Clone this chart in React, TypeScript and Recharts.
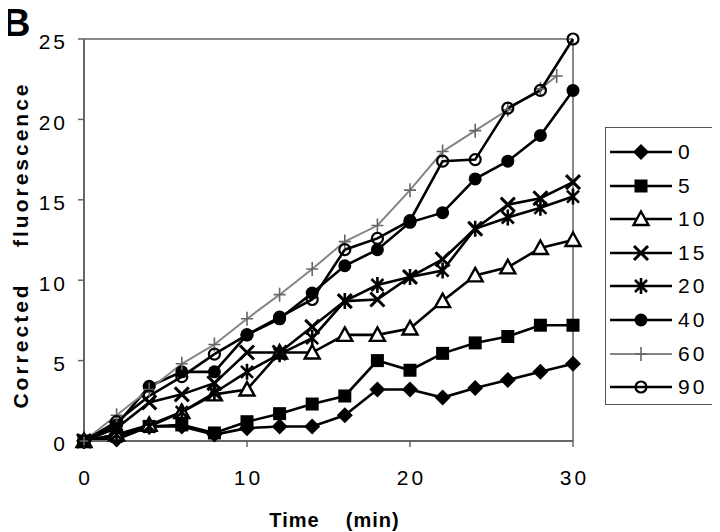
import React from 'react';
import { LineChart, Line, XAxis, YAxis, Legend, Label, ReferenceLine } from 'recharts';

// ---- data ----
const times = [0, 2, 4, 6, 8, 10, 12, 14, 16, 18, 20, 22, 24, 26, 28, 30];
const times60 = [0, 2, 4, 6, 8, 10, 12, 14, 16, 18, 20, 22, 24, 26, 28, 29];
const s0 = [0, 0.1, 0.9, 0.9, 0.4, 0.8, 0.9, 0.9, 1.6, 3.2, 3.2, 2.7, 3.3, 3.8, 4.3, 4.8];
const s5 = [0, 0.3, 0.9, 1.0, 0.5, 1.2, 1.7, 2.3, 2.8, 5.0, 4.4, 5.45, 6.1, 6.5, 7.2, 7.2];
const s10 = [0, 0.4, 1.0, 1.8, 2.9, 3.2, 5.5, 5.5, 6.6, 6.6, 7.0, 8.7, 10.3, 10.8, 12.0, 12.5];
const s15 = [0, 0.8, 2.4, 2.9, 3.6, 5.5, 5.5, 7.1, 8.7, 8.8, 10.2, 11.3, 13.2, 14.7, 15.1, 16.1];
const s20 = [0, 0.4, 0.9, 1.8, 3.0, 4.3, 5.4, 6.4, 8.7, 9.7, 10.2, 10.6, 13.2, 13.9, 14.5, 15.2];
const s40 = [0, 1.0, 3.4, 4.3, 4.3, 6.6, 7.6, 9.2, 10.9, 11.9, 13.6, 14.2, 16.3, 17.4, 19.0, 21.8];
const s60 = [0, 1.6, 3.2, 4.8, 6.0, 7.6, 9.1, 10.7, 12.4, 13.4, 15.6, 18.0, 19.3, 20.6, 21.9, 22.7];
const s90 = [0, 1.2, 2.8, 4.0, 5.4, 6.6, 7.7, 8.8, 11.9, 12.6, 13.7, 17.4, 17.5, 20.7, 21.8, 25.0];
const seriesNames = ['0', '5', '10', '15', '20', '40', '60', '90'];
const xTicks = [0, 10, 20, 30];
const yTicks = [0, 5, 10, 15, 20, 25];
const xMax = 30;
const yMax = 25;

type Kind = 'diamond' | 'square' | 'triangle' | 'x' | 'star' | 'dot' | 'plus' | 'circle';

const FONT = '"Liberation Sans", Arial, Helvetica, sans-serif';
const AXIS = '#666';

const defs: { name: string; t: number[]; v: number[]; kind: Kind; color: string; w: number }[] = [
  { name: seriesNames[0], t: times, v: s0, kind: 'diamond', color: '#000', w: 2.6 },
  { name: seriesNames[1], t: times, v: s5, kind: 'square', color: '#000', w: 2.6 },
  { name: seriesNames[2], t: times, v: s10, kind: 'triangle', color: '#000', w: 2.6 },
  { name: seriesNames[3], t: times, v: s15, kind: 'x', color: '#000', w: 2.6 },
  { name: seriesNames[4], t: times, v: s20, kind: 'star', color: '#000', w: 2.6 },
  { name: seriesNames[5], t: times, v: s40, kind: 'dot', color: '#000', w: 2.6 },
  { name: seriesNames[6], t: times60, v: s60, kind: 'plus', color: '#858585', w: 2 },
  { name: seriesNames[7], t: times, v: s90, kind: 'circle', color: '#000', w: 2.6 },
];

function Marker({ kind, cx, cy }: { kind: Kind; cx: number; cy: number }) {
  switch (kind) {
    case 'diamond':
      return <polygon points={`${cx},${cy - 8} ${cx + 8},${cy} ${cx},${cy + 8} ${cx - 8},${cy}`} fill="#000" />;
    case 'square':
      return <rect x={cx - 6.5} y={cy - 6.5} width={13} height={13} fill="#000" />;
    case 'triangle':
      return (
        <polygon
          points={`${cx},${cy - 7.5} ${cx + 7.5},${cy + 6} ${cx - 7.5},${cy + 6}`}
          fill="#fff"
          stroke="#000"
          strokeWidth={2.4}
        />
      );
    case 'x':
      return (
        <path
          d={`M${cx - 7},${cy - 7}L${cx + 7},${cy + 7}M${cx - 7},${cy + 7}L${cx + 7},${cy - 7}`}
          stroke="#000"
          strokeWidth={3}
          fill="none"
        />
      );
    case 'star':
      return (
        <path
          d={`M${cx - 6},${cy - 6}L${cx + 6},${cy + 6}M${cx - 6},${cy + 6}L${cx + 6},${cy - 6}M${cx},${cy - 8}L${cx},${cy + 8}`}
          stroke="#000"
          strokeWidth={2.6}
          fill="none"
        />
      );
    case 'dot':
      return <circle cx={cx} cy={cy} r={6.5} fill="#000" />;
    case 'plus':
      return (
        <path
          d={`M${cx - 6},${cy}L${cx + 6},${cy}M${cx},${cy - 7}L${cx},${cy + 7}`}
          stroke="#666"
          strokeWidth={1.6}
          fill="none"
        />
      );
    case 'circle':
    default:
      return <circle cx={cx} cy={cy} r={5.5} fill="none" stroke="#000" strokeWidth={2.2} />;
  }
}

const makeDot = (kind: Kind) => (p: any) => {
  if (p == null || p.cx == null || p.cy == null) return <g key={`e-${p?.index}`} />;
  return (
    <g key={`m-${kind}-${p.index}`}>
      <Marker kind={kind} cx={p.cx} cy={p.cy} />
    </g>
  );
};

const XTick = (p: any) => (
  <text
    x={p.x + 1.5}
    y={p.y + 29}
    dy="0.355em"
    textAnchor="middle"
    fontFamily={FONT}
    fontSize={21}
    letterSpacing={3}
    fill="#000"
  >
    {p.payload.value}
  </text>
);

const YTick = (p: any) => (
  <text
    x={p.x - 8}
    y={p.y + 3}
    dy="0.355em"
    textAnchor="end"
    fontFamily={FONT}
    fontSize={21}
    letterSpacing={3}
    fill="#000"
  >
    {p.payload.value}
  </text>
);

const YTitle = (props: any) => {
  const vb = props.viewBox || { x: 26, y: 31, width: 50, height: 402 };
  const x = vb.x - 14;
  const y = vb.y + vb.height / 2 + 5;
  return (
    <text
      x={x}
      y={y}
      transform={`rotate(-90 ${x} ${y})`}
      textAnchor="middle"
      dominantBaseline="central"
      fontFamily={FONT}
      fontWeight="bold"
      fontSize={21}
      letterSpacing={3}
      style={{ whiteSpace: 'pre' }}
      fill="#000"
    >
      {'Corrected    fluorescence'}
    </text>
  );
};

const XTitle = (props: any) => {
  const vb = props.viewBox || { x: 76, y: 433, width: 489, height: 90 };
  return (
    <text
      x={vb.x + vb.width / 2 + 6}
      y={vb.y + 86}
      textAnchor="middle"
      fontFamily={FONT}
      fontWeight="bold"
      fontSize={20}
      letterSpacing={1}
      style={{ whiteSpace: 'pre' }}
      fill="#000"
    >
      {'Time    (min)'}
    </text>
  );
};

const LegendBox = () => (
  <div
    style={{
      width: 106,
      height: 276,
      border: '1px solid #555',
      background: '#fff',
      position: 'relative',
      fontFamily: FONT,
    }}
  >
    {defs.map((s, i) => (
      <div
        key={s.name}
        style={{ position: 'absolute', left: 0, top: 24 + i * 33.6 - 14, height: 28, width: 106 }}
      >
        <svg width={70} height={28} style={{ position: 'absolute', left: 0, top: 0 }}>
          <line x1={4} x2={66} y1={14} y2={14} stroke={s.color} strokeWidth={s.w} />
          <Marker kind={s.kind} cx={35} cy={14} />
        </svg>
        <span
          style={{
            position: 'absolute',
            left: 72,
            top: 0,
            lineHeight: '28px',
            fontSize: 21,
            letterSpacing: 3,
            color: '#000',
          }}
        >
          {s.name}
        </span>
      </div>
    ))}
  </div>
);

export default function App() {
  return (
    <div style={{ position: 'relative', width: 712, height: 524, background: '#fff' }}>
      <svg width={60} height={50} style={{ position: 'absolute', left: -8, top: -8 }}>
        <text x={3} y={36} fontFamily={FONT} fontWeight="bold" fontSize={38} fill="#000">
          B
        </text>
      </svg>
      <LineChart width={712} height={524} margin={{ top: 31, right: 147, left: 26, bottom: 1 }}>
        <XAxis
          xAxisId={0}
          dataKey="t"
          type="number"
          domain={[0, xMax]}
          ticks={xTicks}
          height={90}
          axisLine={{ stroke: AXIS, strokeWidth: 2 }}
          tickLine={{ stroke: AXIS, strokeWidth: 1.5 }}
          tickSize={6}
          tick={<XTick />}
          interval={0}
        >
          <Label content={<XTitle />} />
        </XAxis>
        <YAxis
          yAxisId={0}
          type="number"
          domain={[0, yMax]}
          ticks={yTicks}
          width={50}
          axisLine={{ stroke: AXIS, strokeWidth: 2 }}
          tickLine={{ stroke: AXIS, strokeWidth: 1.5 }}
          tickSize={6}
          tick={<YTick />}
          interval={0}
        >
          <Label content={<YTitle />} />
        </YAxis>
        <ReferenceLine xAxisId={0} yAxisId={0} y={yMax} stroke="#888" strokeWidth={2} />
        <ReferenceLine xAxisId={0} yAxisId={0} x={xMax} stroke="#888" strokeWidth={2} />
        {defs.map((s) => (
          <Line
            key={s.name}
            name={s.name}
            xAxisId={0}
            yAxisId={0}
            data={s.t.map((t, i) => ({ t, v: s.v[i] }))}
            dataKey="v"
            type="linear"
            stroke={s.color}
            strokeWidth={s.w}
            dot={makeDot(s.kind)}
            activeDot={false}
            isAnimationActive={false}
          />
        ))}
        <Legend
          layout="vertical"
          align="center"
          verticalAlign="middle"
          content={<LegendBox />}
          wrapperStyle={{ left: 597, top: 119, width: 108, height: 278 }}
        />
      </LineChart>
    </div>
  );
}
